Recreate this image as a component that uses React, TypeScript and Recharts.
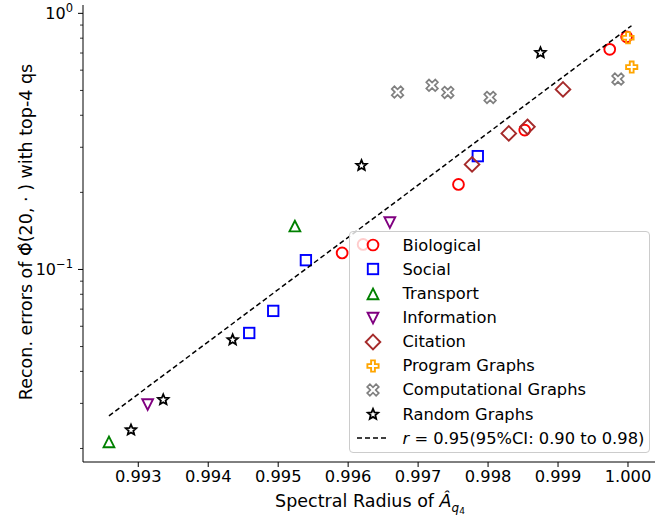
import { Legend, Scatter, ScatterChart, XAxis, YAxis } from 'recharts';

const FONT = '"DejaVu Sans", sans-serif';

// axis ticks
const X_TICKS = [0.993, 0.994, 0.995, 0.996, 0.997, 0.998, 0.999, 1.0];
const Y_MAJOR = [0.1, 1];
const Y_MINOR = [0.02, 0.03, 0.04, 0.05, 0.06, 0.07, 0.08, 0.09, 0.2, 0.3, 0.4, 0.5, 0.6, 0.7, 0.8, 0.9];
const Y_TICKS = [...Y_MINOR, ...Y_MAJOR].sort((a, b) => a - b);

// points: x = spectral radius, y = reconstruction error
const biological = [
  { x: 0.999739, y: 0.7236 },
  { x: 0.99998, y: 0.81 },
  { x: 0.998524, y: 0.35 },
  { x: 0.997577, y: 0.2148 },
  { x: 0.996214, y: 0.1252 },
  { x: 0.995914, y: 0.116 },
];
const social = [
  { x: 0.997853, y: 0.277 },
  { x: 0.995396, y: 0.1087 },
  { x: 0.994929, y: 0.0689 },
  { x: 0.994586, y: 0.0565 },
];
const transport = [
  { x: 0.995239, y: 0.1476 },
  { x: 0.992581, y: 0.0212 },
];
const information = [
  { x: 0.996596, y: 0.1526 },
  { x: 0.993134, y: 0.0297 },
];
const citation = [
  { x: 0.999071, y: 0.5046 },
  { x: 0.998563, y: 0.3606 },
  { x: 0.998296, y: 0.3398 },
  { x: 0.997771, y: 0.2572 },
];
const programGraphs = [
  { x: 1.0, y: 0.8029 },
  { x: 1.000053, y: 0.617 },
];
const computationalGraphs = [
  { x: 0.996706, y: 0.4927 },
  { x: 0.9972, y: 0.5235 },
  { x: 0.997424, y: 0.4914 },
  { x: 0.998029, y: 0.4697 },
  { x: 0.999857, y: 0.5537 },
];
const randomGraphs = [
  { x: 0.998749, y: 0.7042 },
  { x: 0.996191, y: 0.2555 },
  { x: 0.994349, y: 0.0533 },
  { x: 0.993357, y: 0.0311 },
  { x: 0.992896, y: 0.0237 },
];
const fitLine = [
  { x: 0.992581, y: 0.0268 },
  { x: 1.00005, y: 0.8946 },
];

type Kind = 'circle' | 'square' | 'triUp' | 'triDown' | 'diamond' | 'plus' | 'cross' | 'star';

const SERIES: { name: string; kind: Kind; color: string; data: { x: number; y: number }[] }[] = [
  { name: 'Biological', kind: 'circle', color: '#ff0000', data: biological },
  { name: 'Social', kind: 'square', color: '#0000ff', data: social },
  { name: 'Transport', kind: 'triUp', color: '#008000', data: transport },
  { name: 'Information', kind: 'triDown', color: '#800080', data: information },
  { name: 'Citation', kind: 'diamond', color: '#a52a2a', data: citation },
  { name: 'Program Graphs', kind: 'plus', color: '#ffa500', data: programGraphs },
  { name: 'Computational Graphs', kind: 'cross', color: '#808080', data: computationalGraphs },
  { name: 'Random Graphs', kind: 'star', color: '#000000', data: randomGraphs },
];

function plusPoints(h: number, a: number, angle: number) {
  const pts = [
    [-a, -h], [-a, -a], [-h, -a], [-h, a], [-a, a], [-a, h],
    [a, h], [a, a], [h, a], [h, -a], [a, -a], [a, -h],
  ];
  const c = Math.cos(angle);
  const s = Math.sin(angle);
  return pts.map(([px, py]) => [px * c - py * s, px * s + py * c]);
}

function Marker({ kind, cx, cy, color }: { kind: Kind; cx: number; cy: number; color: string }) {
  const common = { fill: 'none', stroke: color, strokeWidth: 1.9, strokeLinejoin: 'miter' as const };
  const toStr = (pts: number[][]) => pts.map(([px, py]) => `${cx + px},${cy + py}`).join(' ');
  switch (kind) {
    case 'circle':
      return <circle cx={cx} cy={cy} r={5.4} {...common} />;
    case 'square':
      return <rect x={cx - 5.2} y={cy - 5.2} width={10.4} height={10.4} {...common} />;
    case 'triUp':
      return <polygon points={toStr([[0, -5.4], [-5.4, 5.2], [5.4, 5.2]])} {...common} />;
    case 'triDown':
      return <polygon points={toStr([[0, 5.4], [-5.4, -5.2], [5.4, -5.2]])} {...common} />;
    case 'diamond':
      return <polygon points={toStr([[0, -7.3], [7.3, 0], [0, 7.3], [-7.3, 0]])} {...common} />;
    case 'plus':
      return <polygon points={toStr(plusPoints(5.6, 1.9, 0))} {...common} />;
    case 'cross':
      return <polygon points={toStr(plusPoints(6.3, 1.9, Math.PI / 4))} {...common} strokeWidth={1.7} />;
    case 'star': {
      const pts: number[][] = [];
      for (let i = 0; i < 10; i++) {
        const r = i % 2 === 0 ? 5.5 : 5.5 * 0.45;
        const ang = -Math.PI / 2 + (i * Math.PI) / 5;
        pts.push([r * Math.cos(ang), r * Math.sin(ang) + 0.4]);
      }
      return <polygon points={toStr(pts)} {...common} strokeWidth={1.8} />;
    }
  }
  return null;
}

function XTick(props: any) {
  const { x, y, payload } = props;
  return (
    <g>
      <line x1={x} x2={x} y1={y} y2={y + 5} stroke="#000" strokeWidth={1} />
      <text x={x} y={y + 20} textAnchor="middle" fontFamily={FONT} fontSize={16.3} fill="#000">
        {payload.value.toFixed(3)}
      </text>
    </g>
  );
}

function YTick(props: any) {
  const { x, y, payload } = props;
  const v = payload.value;
  const major = Y_MAJOR.includes(v);
  if (!major) {
    return <line x1={x} x2={x - 3} y1={y} y2={y} stroke="#000" strokeWidth={0.8} />;
  }
  const exp = Math.round(Math.log10(v));
  return (
    <g>
      <line x1={x} x2={x - 5} y1={y} y2={y} stroke="#000" strokeWidth={1} />
      <text x={x - 10} y={y + 6} textAnchor="end" fontFamily={FONT} fontSize={16} fill="#000">
        10
        <tspan fontSize={11.5} dy={-7.5}>
          {exp === 0 ? '0' : `\u2212${Math.abs(exp)}`}
        </tspan>
      </text>
    </g>
  );
}

function LegendBox() {
  return (
    <div
      style={{
        position: 'relative',
        width: 301,
        height: 222,
        boxSizing: 'border-box',
        border: '1px solid #cccccc',
        borderRadius: 4,
        background: 'rgba(255,255,255,0.8)',
        fontFamily: FONT,
        fontSize: 16.3,
        color: '#000',
      }}
    >
      {SERIES.map((s, i) => (
        <div key={s.name} style={{ position: 'absolute', left: 0, top: 13.3 + i * 24.1 - 12, height: 24, display: 'flex', alignItems: 'center' }}>
          <svg width={30} height={24} style={{ marginLeft: 8 }}>
            <Marker kind={s.kind} cx={15} cy={12} color={s.color} />
          </svg>
          <span style={{ marginLeft: 14.5, whiteSpace: 'nowrap' }}>{s.name}</span>
        </div>
      ))}
      <div style={{ position: 'absolute', left: 0, top: 13.3 + 8 * 24.1 - 12, height: 24, display: 'flex', alignItems: 'center' }}>
        <svg width={32} height={24} style={{ marginLeft: 6 }}>
          <line x1={1} x2={31} y1={12} y2={12} stroke="#000" strokeWidth={1.5} strokeDasharray="5 3" />
        </svg>
        <span style={{ marginLeft: 14.5, whiteSpace: 'nowrap' }}>
          <i>r</i> = 0.95(95%CI: 0.90 to 0.98)
        </span>
      </div>
    </div>
  );
}

export default function App() {
  return (
    <div style={{ position: 'absolute', left: 0, top: 0, width: 656, height: 519, background: '#fff' }}>
      <ScatterChart width={656} height={519} margin={{ top: 5, right: 1, bottom: 0, left: 0 }}>
        <XAxis
          dataKey="x"
          type="number"
          domain={[0.99221, 1.000386]}
          allowDataOverflow
          ticks={X_TICKS}
          interval={0}
          height={57}
          tickSize={0}
          tickMargin={0}
          tickLine={false}
          axisLine={{ stroke: '#000', strokeWidth: 1 }}
          tick={XTick}
          label={() => (
            <text x={370} y={507} textAnchor="middle" fontFamily={FONT} fontSize={17.5} fill="#000">
              Spectral Radius of <tspan fontStyle="italic">A{'\u0302'}</tspan>
              <tspan fontStyle="italic" fontSize={12} dy={5}>q</tspan>
              <tspan fontSize={9} dy={2}>4</tspan>
            </text>
          )}
        />
        <YAxis
          dataKey="y"
          type="number"
          scale="log"
          domain={[0.01771, 1.078]}
          allowDataOverflow
          ticks={Y_TICKS}
          interval={0}
          width={83}
          tickSize={0}
          tickMargin={0}
          tickLine={false}
          axisLine={{ stroke: '#000', strokeWidth: 1 }}
          tick={YTick}
          label={() => (
            <text
              x={32}
              y={232}
              transform="rotate(-90, 32, 232)"
              textAnchor="middle"
              fontFamily={FONT}
              fontSize={17.5}
              fill="#000"
            >
              Recon. errors of {'\u03A6\u0302'}(20, · ) with top-4 qs
            </text>
          )}
        />
        <XAxis xAxisId="top" orientation="top" type="number" domain={[0, 1]} height={0} tick={false} tickLine={false} axisLine={{ stroke: '#000', strokeWidth: 1 }} />
        <YAxis yAxisId="right" orientation="right" type="number" domain={[0, 1]} width={0} tick={false} tickLine={false} axisLine={{ stroke: '#000', strokeWidth: 1 }} />

        {SERIES.map((s) => (
          <Scatter
            key={s.name}
            name={s.name}
            data={s.data}
            isAnimationActive={false}
            shape={(p: any) => <Marker kind={s.kind} cx={p.cx} cy={p.cy} color={s.color} />}
          />
        ))}
        <Scatter
          name="fit"
          data={fitLine}
          isAnimationActive={false}
          line={{ stroke: '#000', strokeWidth: 1.5, strokeDasharray: '5 3' }}
          lineType="joint"
          shape={() => <g />}
        />

        <Legend
          layout="vertical"
          align="center"
          verticalAlign="middle"
          wrapperStyle={{ left: 349, top: 231, width: 301, height: 222 }}
          content={() => <LegendBox />}
        />
      </ScatterChart>
    </div>
  );
}
